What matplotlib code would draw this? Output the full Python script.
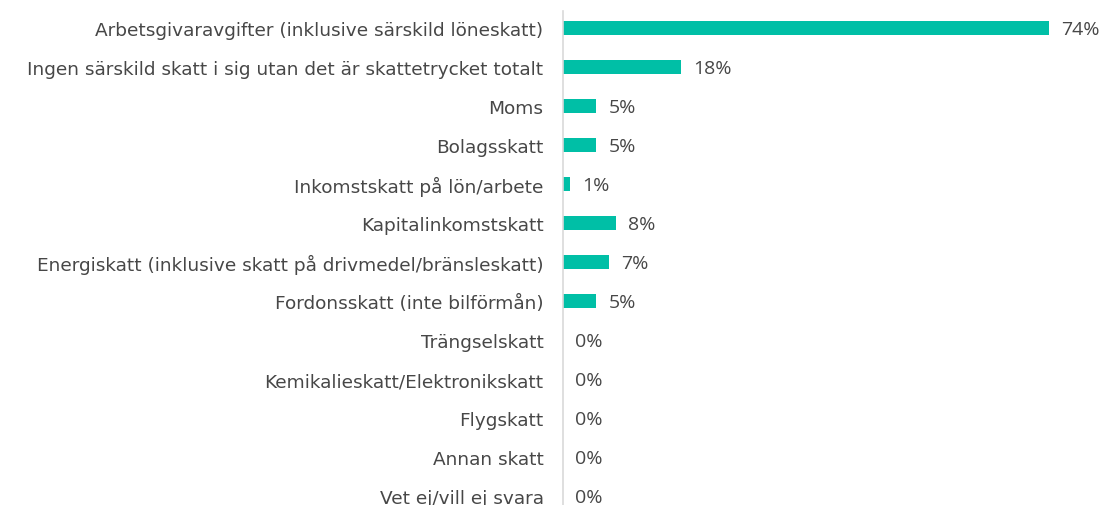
import matplotlib
matplotlib.use("Agg")
import matplotlib.pyplot as plt

categories = [
    "Arbetsgivaravgifter (inklusive särskild löneskatt)",
    "Ingen särskild skatt i sig utan det är skattetrycket totalt",
    "Moms",
    "Bolagsskatt",
    "Inkomstskatt på lön/arbete",
    "Kapitalinkomstskatt",
    "Energiskatt (inklusive skatt på drivmedel/bränsleskatt)",
    "Fordonsskatt (inte bilförmån)",
    "Trängselskatt",
    "Kemikalieskatt/Elektronikskatt",
    "Flygskatt",
    "Annan skatt",
    "Vet ej/vill ej svara",
]
values = [74, 18, 5, 5, 1, 8, 7, 5, 0, 0, 0, 0, 0]

plt.rcParams['font.family'] = ['DejaVu Sans']
text_color = '#474747'
bar_color = '#00BFA6'

fig = plt.figure(figsize=(11.05, 5.06), dpi=100)
ax = fig.add_axes([563 / 1105, 0, 525 / 1105, 494 / 506])

y = list(range(len(categories)))
ax.barh(y, values, height=0.34, color=bar_color)
ax.set_xlim(0, 80)
ax.set_ylim(12.23, -0.436)

for yi, v in zip(y, values):
    ax.annotate(f"{v}%", (v, yi + 0.03), xytext=(9, 0), textcoords='offset points',
                va='center', ha='left', fontsize=14, color=text_color,
                family='Open Sans')

ax.set_yticks(y)
ax.set_yticklabels(categories, fontsize=13.3, color=text_color)
ax.tick_params(axis='y', length=0, pad=14)
ax.set_xticks([])
for s in ['top', 'right', 'bottom']:
    ax.spines[s].set_visible(False)
ax.spines['left'].set_color('#d9d9d9')
ax.spines['left'].set_linewidth(1.2)

fig.savefig("out.png", dpi=100)
